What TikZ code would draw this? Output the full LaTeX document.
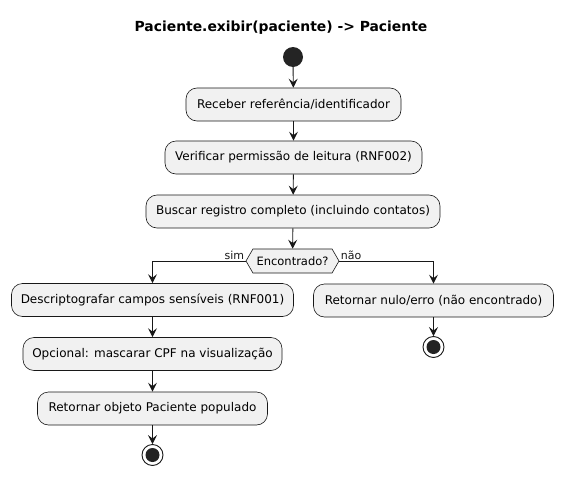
\documentclass[tikz,border=0pt]{standalone}
\usepackage{fontspec}
\setmainfont{DejaVu Sans}
\usetikzlibrary{arrows.meta,shapes.symbols}
\definecolor{boxfill}{HTML}{F1F1F1}
\definecolor{edge}{HTML}{181818}
\tikzset{
  actbox/.style={draw=edge,fill=boxfill,rounded corners=11pt,line width=.6pt,
    minimum height=33pt,inner xsep=0pt,font=\fontsize{12}{14}\selectfont},
  decbox/.style={draw=edge,fill=boxfill,signal,signal to=west and east,
    signal pointer angle=120,line width=.6pt,minimum height=24pt,
    inner xsep=0pt,font=\fontsize{11.5}{13}\selectfont},
  flow/.style={edge,line width=.9pt,-{Stealth[length=9pt,width=9pt,inset=3.5pt]}},
  startdot/.style={circle,fill=edge!95!white,minimum size=20pt,inner sep=0pt},
  enddot/.style={circle,draw=edge,line width=.9pt,minimum size=21pt,inner sep=0pt,
    path picture={\fill[edge!95!white] (path picture bounding box.center) circle (7pt);}},
  lbl/.style={font=\fontsize{11}{13}\selectfont,inner sep=1pt}
}
\begin{document}
\begin{tikzpicture}[x=1pt,y=-1pt]
\useasboundingbox (0,0) rectangle (563,477);
\node[font=\bfseries\fontsize{13.9}{16}\selectfont] (title) at (281,28) {Paciente.exibir(paciente) -> Paciente};
\node[startdot] (start) at (293,57) {};
\node[actbox,minimum width=215pt] (receber) at (293.5,104.5) {Receber referência/identificador};
\node[actbox,minimum width=257pt] (verificar) at (293.5,157.5) {Verificar permissão de leitura (RNF002)};
\node[actbox,minimum width=294pt] (buscar) at (293,211.5) {Buscar registro completo (incluindo contatos)};
\node[decbox,minimum width=93pt] (achou) at (292.5,261) {Encontrado?};
\node[actbox,minimum width=282pt] (descript) at (152.5,300) {Descriptografar campos sensíveis (RNF001)};
\node[actbox,minimum width=259pt] (mascarar) at (152.5,354) {Opcional: mascarar CPF na visualização};
\node[actbox,minimum width=230pt] (retobj) at (152.5,408.5) {Retornar objeto Paciente populado};
\node[enddot] (fim1) at (152.5,455) {};
\node[actbox,minimum width=240pt] (retnulo) at (433.5,300.5) {Retornar nulo/erro (não encontrado)};
\node[enddot] (fim2) at (433.5,347) {};
% fluxo principal
\draw[flow] (start) -- (receber);
\draw[flow] (receber) -- (verificar);
\draw[flow] (verificar) -- (buscar);
\draw[flow] (buscar) -- (achou);
\draw[flow] (achou.west) node[lbl,anchor=south east] {sim} -| (descript.north);
\draw[flow] (achou.east) node[lbl,anchor=south west] {não} -| (retnulo.north);
\draw[flow] (descript) -- (mascarar);
\draw[flow] (mascarar) -- (retobj);
\draw[flow] (retobj) -- (fim1);
\draw[flow] (retnulo) -- (fim2);
\end{tikzpicture}
\end{document}
